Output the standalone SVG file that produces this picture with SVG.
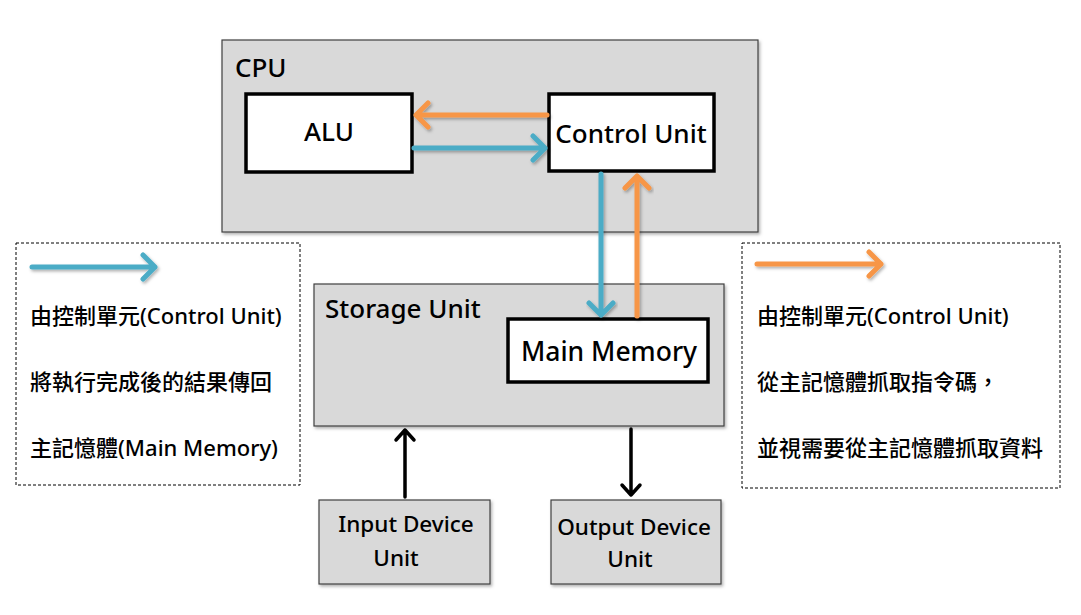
<svg xmlns="http://www.w3.org/2000/svg" width="1081" height="615" viewBox="0 0 1081 615">
<style>
.grey{fill:#d9d9d9;stroke:#404040;stroke-width:1.2}
.white{fill:#ffffff;stroke:#000000;stroke-width:3.5}
.dash{fill:#ffffff;stroke:#000000;stroke-width:1;stroke-dasharray:3,2}
.t{font-family:"Noto Sans","Noto Sans CJK TC",sans-serif;font-weight:500;fill:#000000}
.lg{font-family:"Noto Sans","Noto Sans CJK TC",sans-serif;font-weight:500;font-size:22px;fill:#000000}
.blue{stroke:#4bacc6;stroke-width:5;fill:none;stroke-linecap:round;stroke-linejoin:round}
.orange{stroke:#f79646;stroke-width:5;fill:none;stroke-linecap:round;stroke-linejoin:round}
.black{stroke:#000000;stroke-width:3.5;fill:none;stroke-linecap:round;stroke-linejoin:round}
</style>
<defs>
<filter id="sh" x="-10%" y="-10%" width="130%" height="140%">
<feDropShadow dx="1.5" dy="2" stdDeviation="1.5" flood-color="#000" flood-opacity="0.3"/>
</filter>
</defs>
<rect width="1081" height="615" fill="#ffffff"/>
<g id="cpu">
<rect class="grey" x="222" y="40" width="536" height="192" filter="url(#sh)"/>
<text class="t" x="235" y="77" font-size="26">CPU</text>
</g>
<g id="alu">
<rect class="white" x="246" y="94" width="166" height="78"/>
<text class="t" x="329" y="141" font-size="26" text-anchor="middle">ALU</text>
</g>
<g id="control-unit">
<rect class="white" x="549" y="94" width="165" height="77"/>
<text class="t" x="631" y="143" font-size="26" text-anchor="middle">Control Unit</text>
</g>
<g id="storage-unit">
<rect class="grey" x="314" y="284" width="410" height="142" filter="url(#sh)"/>
<text class="t" x="325" y="318" font-size="26">Storage Unit</text>
</g>
<g id="main-memory">
<rect class="white" x="508" y="319" width="200" height="63"/>
<text class="t" x="609" y="361" font-size="26.5" text-anchor="middle">Main Memory</text>
</g>
<g id="input-device">
<rect class="grey" x="319" y="500" width="171" height="84" filter="url(#sh)"/>
<text class="t" x="406" y="532" font-size="22.5" text-anchor="middle">Input Device</text>
<text class="t" x="396" y="566" font-size="22.5" text-anchor="middle">Unit</text>
</g>
<g id="output-device">
<rect class="grey" x="551" y="500" width="170" height="84" filter="url(#sh)"/>
<text class="t" x="634" y="535" font-size="22.5" text-anchor="middle">Output Device</text>
<text class="t" x="630" y="567" font-size="22.5" text-anchor="middle">Unit</text>
</g>
<g id="legend-left">
<rect class="dash" x="16" y="243" width="284" height="242"/>
<path class="blue" d="M32,267 L155,267 M143,255 L155,267 L143,279" filter="url(#sh)"/>
<text class="lg" x="30" y="324">由控制單元(Control Unit)</text>
<text class="lg" x="30" y="390">將執行完成後的結果傳回</text>
<text class="lg" x="30" y="456">主記憶體(Main Memory)</text>
</g>
<g id="legend-right">
<rect class="dash" x="742" y="243" width="318" height="245"/>
<path class="orange" d="M757,264 L881,264 M869,252 L881,264 L869,276" filter="url(#sh)"/>
<text class="lg" x="757" y="324">由控制單元(Control Unit)</text>
<text class="lg" x="757" y="390">從主記憶體抓取指令碼，</text>
<text class="lg" x="757" y="456">並視需要從主記憶體抓取資料</text>
</g>
<g id="connectors">
<path class="orange" d="M547,115 L416,115 M428,103 L416,115 L428,127" filter="url(#sh)"/>
<path class="blue" d="M414,148 L545,148 M533,136 L545,148 L533,160" filter="url(#sh)"/>
<path class="blue" d="M601,174 L601,315 M589,303 L601,315 L613,303" filter="url(#sh)"/>
<path class="orange" d="M637,316 L637,176 M625,188 L637,176 L649,188" filter="url(#sh)"/>
<path class="black" d="M405,497 L405,430 M396,440 L405,430 L414,440"/>
<path class="black" d="M631,429 L631,495 M622,485 L631,495 L640,485"/>
</g>
</svg>
